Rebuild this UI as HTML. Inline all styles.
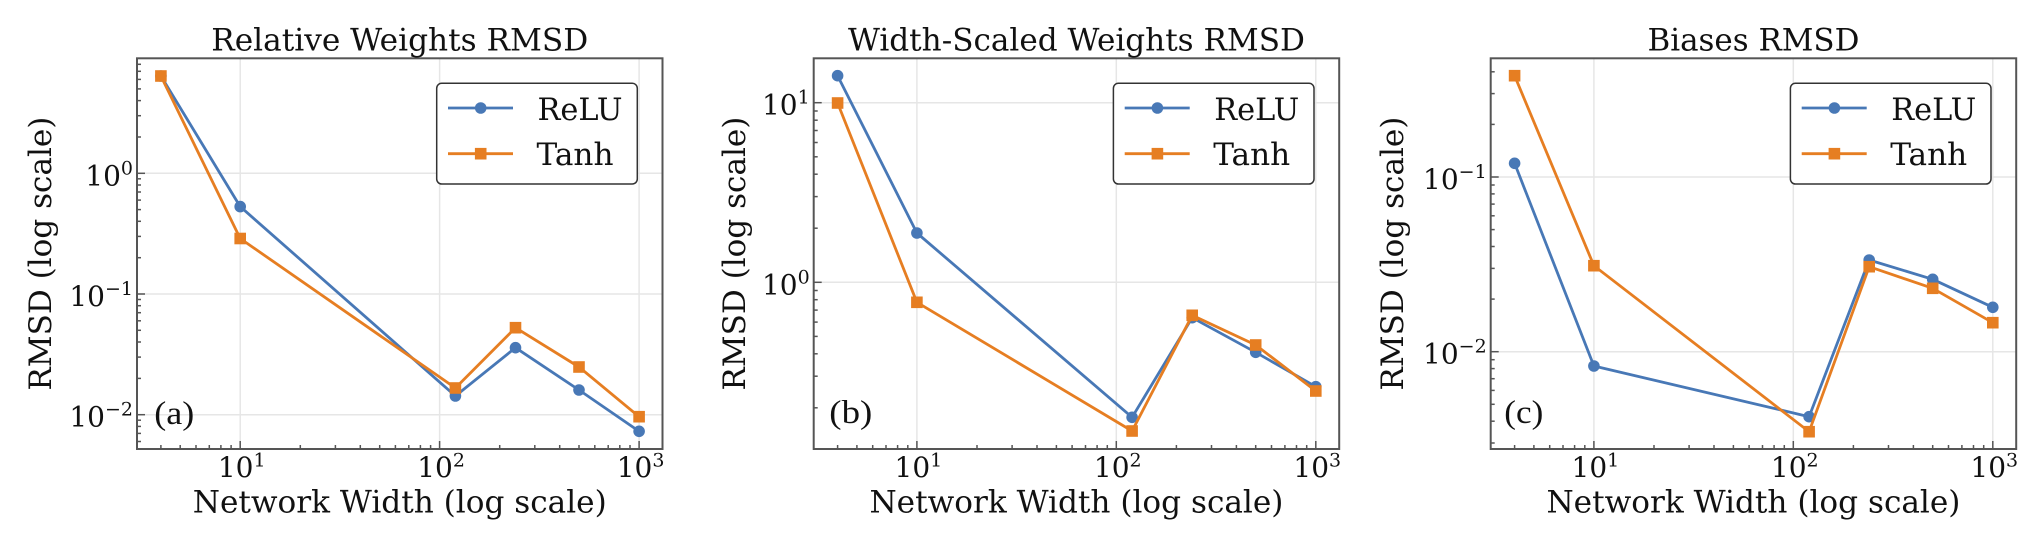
<!DOCTYPE html>
<html>
<head>
<meta charset="utf-8">
<style>
html,body{margin:0;padding:0;background:#fff;}
svg{display:block;}
text{font-family:"DejaVu Serif","Liberation Serif",serif;fill:#111;}
.tk{font-size:28px;}
.sp{font-size:19px;}
.lab{font-size:31px;}
.ttl{font-size:31px;}
.let{font-family:"Liberation Serif","DejaVu Serif",serif;font-size:33px;}
</style>
</head>
<body>
<svg width="2032" height="542" viewBox="0 0 2032 542" xmlns="http://www.w3.org/2000/svg">
<rect width="2032" height="542" fill="#fff"/>
<defs>
  <g id="xcommon">
    <!-- vertical grid -->
    <g stroke="#e6e6e6" stroke-width="1.5">
      <line x1="103.2" y1="58.3" x2="103.2" y2="449"/>
      <line x1="302.6" y1="58.3" x2="302.6" y2="449"/>
      <line x1="502.1" y1="58.3" x2="502.1" y2="449"/>
    </g>
  </g>
  <g id="xticks">
    <g stroke="#555" stroke-width="1.5">
      <line x1="103.2" y1="449" x2="103.2" y2="441"/>
      <line x1="302.6" y1="449" x2="302.6" y2="441"/>
      <line x1="502.1" y1="449" x2="502.1" y2="441"/>
      <line x1="23.9" y1="449" x2="23.9" y2="445"/>
      <line x1="43.2" y1="449" x2="43.2" y2="445"/>
      <line x1="59.0" y1="449" x2="59.0" y2="445"/>
      <line x1="72.3" y1="449" x2="72.3" y2="445"/>
      <line x1="83.9" y1="449" x2="83.9" y2="445"/>
      <line x1="94.1" y1="449" x2="94.1" y2="445"/>
      <line x1="163.3" y1="449" x2="163.3" y2="445"/>
      <line x1="198.4" y1="449" x2="198.4" y2="445"/>
      <line x1="223.3" y1="449" x2="223.3" y2="445"/>
      <line x1="242.7" y1="449" x2="242.7" y2="445"/>
      <line x1="258.4" y1="449" x2="258.4" y2="445"/>
      <line x1="271.8" y1="449" x2="271.8" y2="445"/>
      <line x1="283.4" y1="449" x2="283.4" y2="445"/>
      <line x1="293.6" y1="449" x2="293.6" y2="445"/>
      <line x1="362.7" y1="449" x2="362.7" y2="445"/>
      <line x1="397.8" y1="449" x2="397.8" y2="445"/>
      <line x1="422.7" y1="449" x2="422.7" y2="445"/>
      <line x1="442.0" y1="449" x2="442.0" y2="445"/>
      <line x1="457.8" y1="449" x2="457.8" y2="445"/>
      <line x1="471.2" y1="449" x2="471.2" y2="445"/>
      <line x1="482.8" y1="449" x2="482.8" y2="445"/>
      <line x1="493.0" y1="449" x2="493.0" y2="445"/>
    </g>
    <text class="tk" x="104.7" y="477" text-anchor="middle">10<tspan class="sp" dy="-10.5">1</tspan></text>
    <text class="tk" x="304.1" y="477" text-anchor="middle">10<tspan class="sp" dy="-10.5">2</tspan></text>
    <text class="tk" x="503.6" y="477" text-anchor="middle">10<tspan class="sp" dy="-10.5">3</tspan></text>
    <text class="lab" x="262.75" y="512.3" text-anchor="middle" textLength="414" lengthAdjust="spacingAndGlyphs">Network Width (log scale)</text>
    <rect x="0" y="58.3" width="525.5" height="390.7" fill="none" stroke="#555" stroke-width="2"/>
  </g>
  <g id="legend">
    <rect x="299.7" y="83.3" width="200.6" height="100.7" rx="5" ry="5" fill="#fff" stroke="#333" stroke-width="1.5"/>
    <line x1="311" y1="108" x2="376" y2="108" stroke="#4878b6" stroke-width="2.8"/>
    <circle cx="343.7" cy="108" r="5.8" fill="#4878b6"/>
    <line x1="311" y1="153.7" x2="376" y2="153.7" stroke="#e67e22" stroke-width="2.8"/>
    <rect x="337.9" y="147.9" width="11.6" height="11.6" fill="#e67e22"/>
    <text class="lab" x="400.5" y="120" textLength="85" lengthAdjust="spacingAndGlyphs">ReLU</text>
    <text class="lab" x="399.5" y="165" textLength="77" lengthAdjust="spacingAndGlyphs">Tanh</text>
  </g>
</defs>

<!-- ================= Panel (a) ================= -->
<g transform="translate(137,0)">
  <use href="#xcommon"/>
  <g stroke="#e6e6e6" stroke-width="1.5">
    <line x1="0" y1="173.3" x2="525.5" y2="173.3"/>
    <line x1="0" y1="294" x2="525.5" y2="294"/>
    <line x1="0" y1="414.7" x2="525.5" y2="414.7"/>
  </g>
  <g stroke="#555" stroke-width="1.5">
    <line x1="0" y1="173.3" x2="8" y2="173.3"/>
    <line x1="0" y1="294" x2="8" y2="294"/>
    <line x1="0" y1="414.7" x2="8" y2="414.7"/>
    <line x1="0" y1="441.5" x2="4" y2="441.5"/><line x1="0" y1="433.4" x2="4" y2="433.4"/>
    <line x1="0" y1="426.4" x2="4" y2="426.4"/><line x1="0" y1="420.2" x2="4" y2="420.2"/>
    <line x1="0" y1="378.4" x2="4" y2="378.4"/><line x1="0" y1="357.1" x2="4" y2="357.1"/>
    <line x1="0" y1="342.0" x2="4" y2="342.0"/><line x1="0" y1="330.3" x2="4" y2="330.3"/>
    <line x1="0" y1="320.8" x2="4" y2="320.8"/><line x1="0" y1="312.7" x2="4" y2="312.7"/>
    <line x1="0" y1="305.7" x2="4" y2="305.7"/><line x1="0" y1="299.5" x2="4" y2="299.5"/>
    <line x1="0" y1="257.7" x2="4" y2="257.7"/><line x1="0" y1="236.4" x2="4" y2="236.4"/>
    <line x1="0" y1="221.3" x2="4" y2="221.3"/><line x1="0" y1="209.6" x2="4" y2="209.6"/>
    <line x1="0" y1="200.1" x2="4" y2="200.1"/><line x1="0" y1="192.0" x2="4" y2="192.0"/>
    <line x1="0" y1="185.0" x2="4" y2="185.0"/><line x1="0" y1="178.8" x2="4" y2="178.8"/>
    <line x1="0" y1="137.0" x2="4" y2="137.0"/><line x1="0" y1="115.7" x2="4" y2="115.7"/>
    <line x1="0" y1="100.6" x2="4" y2="100.6"/><line x1="0" y1="88.9" x2="4" y2="88.9"/>
    <line x1="0" y1="79.4" x2="4" y2="79.4"/><line x1="0" y1="71.3" x2="4" y2="71.3"/>
    <line x1="0" y1="64.3" x2="4" y2="64.3"/>
  </g>
  <text class="tk" x="-4" y="185.3" text-anchor="end">10<tspan class="sp" dy="-11">0</tspan></text>
  <text class="tk" x="-4" y="306" text-anchor="end">10<tspan class="sp" dy="-11">−1</tspan></text>
  <text class="tk" x="-4" y="426.7" text-anchor="end">10<tspan class="sp" dy="-11">−2</tspan></text>

  <!-- series -->
  <polyline points="23.9,76 103.2,206.6 318.4,396 378.5,347.7 442,390 502.1,431.3" fill="none" stroke="#4878b6" stroke-width="2.8" stroke-linejoin="round"/>
  <g fill="#4878b6">
    <circle cx="23.9" cy="76" r="5.8"/><circle cx="103.2" cy="206.6" r="5.8"/><circle cx="318.4" cy="396" r="5.8"/>
    <circle cx="378.5" cy="347.7" r="5.8"/><circle cx="442" cy="390" r="5.8"/><circle cx="502.1" cy="431.3" r="5.8"/>
  </g>
  <polyline points="23.9,76 103.2,238.5 318.4,388 378.5,327.7 442,367 502.1,416.7" fill="none" stroke="#e67e22" stroke-width="2.8" stroke-linejoin="round"/>
  <g fill="#e67e22">
    <rect x="18.1" y="70.2" width="11.6" height="11.6"/><rect x="97.4" y="232.7" width="11.6" height="11.6"/>
    <rect x="312.6" y="382.2" width="11.6" height="11.6"/><rect x="372.7" y="321.9" width="11.6" height="11.6"/>
    <rect x="436.2" y="361.2" width="11.6" height="11.6"/><rect x="496.3" y="410.9" width="11.6" height="11.6"/>
  </g>
  <use href="#xticks"/>
  <use href="#legend"/>
  <text class="ttl" x="262.75" y="50.7" text-anchor="middle" textLength="377" lengthAdjust="spacingAndGlyphs">Relative Weights RMSD</text>
  <text class="let" x="17.3" y="424" textLength="40" lengthAdjust="spacingAndGlyphs">(a)</text>
  <text class="lab" transform="translate(-86,253.6) rotate(-90)" text-anchor="middle" textLength="274" lengthAdjust="spacingAndGlyphs">RMSD (log scale)</text>
</g>

<!-- ================= Panel (b) ================= -->
<g transform="translate(813.7,0)">
  <use href="#xcommon"/>
  <g stroke="#e6e6e6" stroke-width="1.5">
    <line x1="0" y1="102.7" x2="525.5" y2="102.7"/>
    <line x1="0" y1="282.3" x2="525.5" y2="282.3"/>
  </g>
  <g stroke="#555" stroke-width="1.5">
    <line x1="0" y1="102.7" x2="8" y2="102.7"/>
    <line x1="0" y1="282.3" x2="8" y2="282.3"/>
    <line x1="0" y1="407.8" x2="4" y2="407.8"/><line x1="0" y1="376.2" x2="4" y2="376.2"/>
    <line x1="0" y1="353.8" x2="4" y2="353.8"/><line x1="0" y1="336.4" x2="4" y2="336.4"/>
    <line x1="0" y1="322.1" x2="4" y2="322.1"/><line x1="0" y1="310.1" x2="4" y2="310.1"/>
    <line x1="0" y1="299.7" x2="4" y2="299.7"/><line x1="0" y1="290.5" x2="4" y2="290.5"/>
    <line x1="0" y1="228.2" x2="4" y2="228.2"/><line x1="0" y1="196.6" x2="4" y2="196.6"/>
    <line x1="0" y1="174.2" x2="4" y2="174.2"/><line x1="0" y1="156.8" x2="4" y2="156.8"/>
    <line x1="0" y1="142.5" x2="4" y2="142.5"/><line x1="0" y1="130.5" x2="4" y2="130.5"/>
    <line x1="0" y1="120.2" x2="4" y2="120.2"/><line x1="0" y1="111.0" x2="4" y2="111.0"/>
  </g>
  <text class="tk" x="-4" y="114.7" text-anchor="end">10<tspan class="sp" dy="-11">1</tspan></text>
  <text class="tk" x="-4" y="294.3" text-anchor="end">10<tspan class="sp" dy="-11">0</tspan></text>

  <polyline points="23.9,75.7 103.2,233 318.4,417.3 378.5,317.7 442,352.3 502.1,386.7" fill="none" stroke="#4878b6" stroke-width="2.8" stroke-linejoin="round"/>
  <g fill="#4878b6">
    <circle cx="23.9" cy="75.7" r="5.8"/><circle cx="103.2" cy="233" r="5.8"/><circle cx="318.4" cy="417.3" r="5.8"/>
    <circle cx="378.5" cy="317.7" r="5.8"/><circle cx="442" cy="352.3" r="5.8"/><circle cx="502.1" cy="386.7" r="5.8"/>
  </g>
  <polyline points="23.9,103 103.2,302.3 318.4,431 378.5,315.3 442,345 502.1,391" fill="none" stroke="#e67e22" stroke-width="2.8" stroke-linejoin="round"/>
  <g fill="#e67e22">
    <rect x="18.1" y="97.2" width="11.6" height="11.6"/><rect x="97.4" y="296.5" width="11.6" height="11.6"/>
    <rect x="312.6" y="425.2" width="11.6" height="11.6"/><rect x="372.7" y="309.5" width="11.6" height="11.6"/>
    <rect x="436.2" y="339.2" width="11.6" height="11.6"/><rect x="496.3" y="385.2" width="11.6" height="11.6"/>
  </g>
  <use href="#xticks"/>
  <use href="#legend"/>
  <text class="ttl" x="262.75" y="50.7" text-anchor="middle" textLength="457" lengthAdjust="spacingAndGlyphs">Width-Scaled Weights RMSD</text>
  <text class="let" x="15.6" y="423" textLength="43" lengthAdjust="spacingAndGlyphs">(b)</text>
  <text class="lab" transform="translate(-68.7,253.6) rotate(-90)" text-anchor="middle" textLength="274" lengthAdjust="spacingAndGlyphs">RMSD (log scale)</text>
</g>

<!-- ================= Panel (c) ================= -->
<g transform="translate(1490.7,0)">
  <use href="#xcommon"/>
  <g stroke="#e6e6e6" stroke-width="1.5">
    <line x1="0" y1="177" x2="525.5" y2="177"/>
    <line x1="0" y1="351.7" x2="525.5" y2="351.7"/>
  </g>
  <g stroke="#555" stroke-width="1.5">
    <line x1="0" y1="177" x2="8" y2="177"/>
    <line x1="0" y1="351.7" x2="8" y2="351.7"/>
    <line x1="0" y1="443.0" x2="4" y2="443.0"/><line x1="0" y1="421.2" x2="4" y2="421.2"/>
    <line x1="0" y1="404.3" x2="4" y2="404.3"/><line x1="0" y1="390.4" x2="4" y2="390.4"/>
    <line x1="0" y1="378.7" x2="4" y2="378.7"/><line x1="0" y1="368.6" x2="4" y2="368.6"/>
    <line x1="0" y1="359.7" x2="4" y2="359.7"/>
    <line x1="0" y1="299.1" x2="4" y2="299.1"/><line x1="0" y1="268.4" x2="4" y2="268.4"/>
    <line x1="0" y1="246.5" x2="4" y2="246.5"/><line x1="0" y1="229.6" x2="4" y2="229.6"/>
    <line x1="0" y1="215.8" x2="4" y2="215.8"/><line x1="0" y1="204.1" x2="4" y2="204.1"/>
    <line x1="0" y1="193.9" x2="4" y2="193.9"/><line x1="0" y1="185.0" x2="4" y2="185.0"/>
    <line x1="0" y1="124.4" x2="4" y2="124.4"/><line x1="0" y1="93.6" x2="4" y2="93.6"/>
    <line x1="0" y1="71.8" x2="4" y2="71.8"/>
  </g>
  <text class="tk" x="-4" y="189" text-anchor="end">10<tspan class="sp" dy="-11">−1</tspan></text>
  <text class="tk" x="-4" y="363.7" text-anchor="end">10<tspan class="sp" dy="-11">−2</tspan></text>

  <polyline points="23.9,163.3 103.2,366 318.4,416.7 378.5,260 442,279.3 502.1,307.3" fill="none" stroke="#4878b6" stroke-width="2.8" stroke-linejoin="round"/>
  <g fill="#4878b6">
    <circle cx="23.9" cy="163.3" r="5.8"/><circle cx="103.2" cy="366" r="5.8"/><circle cx="318.4" cy="416.7" r="5.8"/>
    <circle cx="378.5" cy="260" r="5.8"/><circle cx="442" cy="279.3" r="5.8"/><circle cx="502.1" cy="307.3" r="5.8"/>
  </g>
  <polyline points="23.9,75.7 103.2,265.7 318.4,431.7 378.5,266.7 442,288.3 502.1,322.7" fill="none" stroke="#e67e22" stroke-width="2.8" stroke-linejoin="round"/>
  <g fill="#e67e22">
    <rect x="18.1" y="69.9" width="11.6" height="11.6"/><rect x="97.4" y="259.9" width="11.6" height="11.6"/>
    <rect x="312.6" y="425.9" width="11.6" height="11.6"/><rect x="372.7" y="260.9" width="11.6" height="11.6"/>
    <rect x="436.2" y="282.5" width="11.6" height="11.6"/><rect x="496.3" y="316.9" width="11.6" height="11.6"/>
  </g>
  <use href="#xticks"/>
  <use href="#legend"/>
  <text class="ttl" x="262.75" y="50.7" text-anchor="middle" textLength="212" lengthAdjust="spacingAndGlyphs">Biases RMSD</text>
  <text class="let" x="13.6" y="423" textLength="39" lengthAdjust="spacingAndGlyphs">(c)</text>
  <text class="lab" transform="translate(-87.7,253.6) rotate(-90)" text-anchor="middle" textLength="274" lengthAdjust="spacingAndGlyphs">RMSD (log scale)</text>
</g>
</svg>
</body>
</html>
